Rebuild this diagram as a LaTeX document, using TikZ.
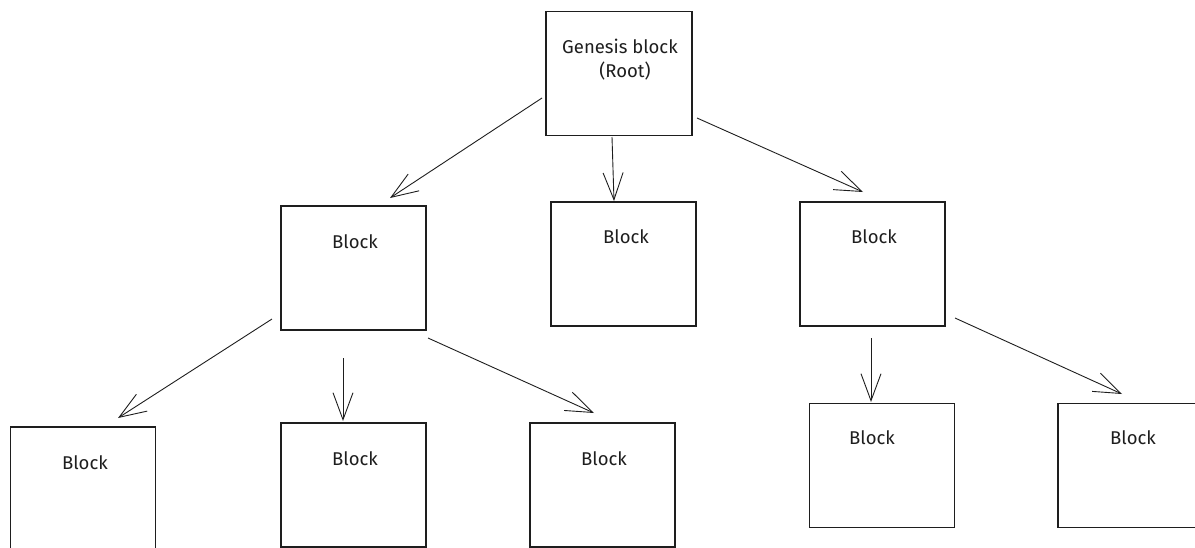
\documentclass[tikz,border=0pt]{standalone}
\usepackage{fontspec}
\setmainfont{Fira Sans}
\usetikzlibrary{arrows.meta}
\definecolor{ink}{HTML}{1E1E1E}
\tikzset{
  x=1pt, y=-1pt,
  blk/.style={draw=ink, line width=1.15pt, fill=white, inner sep=0pt,
              minimum width=145pt, minimum height=124pt},
  lbl/.style={font=\fontsize{18.5}{20}\selectfont, text=ink, inner sep=0pt, align=center},
  arr/.style={draw=ink, line width=0.9pt,
              -{Straight Barb[length=27pt, width=20pt, line width=0.9pt]}}
}
\begin{document}
\begin{tikzpicture}
\useasboundingbox (0,0) rectangle (1195,547);
\clip (0,0) rectangle (1195,547);

% genesis block
\node[blk, minimum width=146pt] (g) at (619,73.5) {};
\node[lbl] (tg1) at (620,46) {Genesis block};
\node[lbl] (tg2) at (625,71) {(Root)};

% second level
\node[blk] (b1) at (353.5,268) {};
\node[lbl] (t1) at (355,242) {Block};
\node[blk] (b2) at (623.5,264) {};
\node[lbl] (t2) at (626,237) {Block};
\node[blk] (b3) at (872.5,264) {};
\node[lbl] (t3) at (874,237) {Block};

% third level
\node[blk] (b4) at (83,489) {};
\node[lbl] (t4) at (85,463) {Block};
\node[blk] (b5) at (353.5,485) {};
\node[lbl] (t5) at (355,459) {Block};
\node[blk] (b6) at (602.5,485) {};
\node[lbl] (t6) at (604,459) {Block};
\node[blk] (b7) at (882,465.5) {};
\node[lbl] (t7) at (872,438) {Block};
\node[blk] (b8) at (1130.5,465.5) {};
\node[lbl] (t8) at (1133,438) {Block};

% arrow end points
\coordinate (s1) at (542,98);   \coordinate (e1) at (390,198);
\coordinate (s2) at (612,137);  \coordinate (e2) at (614,201);
\coordinate (s3) at (697,118);  \coordinate (e3) at (863,192);
\coordinate (s4) at (272,319);  \coordinate (e4) at (118,418);
\coordinate (s5) at (343,358);  \coordinate (e5) at (343,421);
\coordinate (s6) at (428,338);  \coordinate (e6) at (594,413);
\coordinate (s7) at (871,338);  \coordinate (e7) at (871,402);
\coordinate (s8) at (955,318);  \coordinate (e8) at (1122,394);

\draw[arr] (s1) -- (e1);
\draw[arr] (s2) -- (e2);
\draw[arr] (s3) -- (e3);
\draw[arr] (s4) -- (e4);
\draw[arr] (s5) -- (e5);
\draw[arr] (s6) -- (e6);
\draw[arr] (s7) -- (e7);
\draw[arr] (s8) -- (e8);
\end{tikzpicture}
\end{document}
